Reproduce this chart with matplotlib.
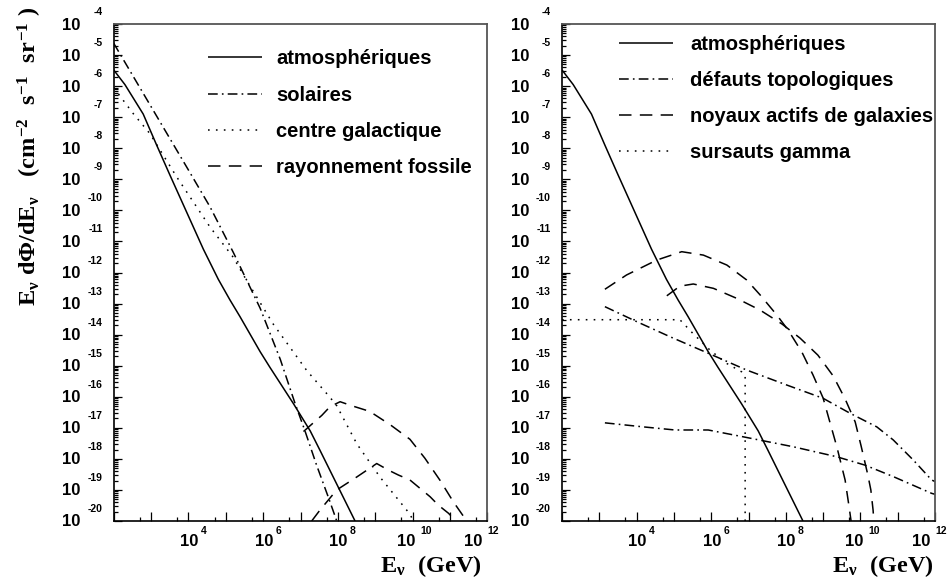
import numpy as np
import matplotlib.pyplot as plt
from matplotlib import transforms
from matplotlib.ticker import LogLocator, NullFormatter

plt.rcParams['mathtext.fontset'] = 'custom'
plt.rcParams['mathtext.rm'] = 'Liberation Serif:bold'
plt.rcParams['mathtext.it'] = 'Liberation Serif:bold'
plt.rcParams['mathtext.bf'] = 'Liberation Serif:bold'
plt.rcParams['lines.scale_dashes'] = False

# all values as log10(E / GeV) and log10(flux)
atm_logE = [2.0, 2.3, 2.79, 3.15, 3.5, 3.95, 4.4, 4.8, 5.11, 5.38, 5.92, 6.18, 6.81, 7.26, 7.52, 8.06, 8.46]
atm_logF = [-5.48, -5.95, -6.9, -7.9, -8.85, -10.05, -11.25, -12.22, -12.88, -13.42, -14.55, -15.05,
            -16.22, -17.1, -17.72, -19.03, -20.0]

# left panel
sol_logE = [2.0, 3.0, 4.0, 4.58, 5.2, 5.92, 6.46, 6.85, 7.12, 7.43, 7.75, 7.97]
sol_logF = [-4.62, -6.66, -8.7, -9.89, -11.35, -13.15, -14.8, -16.2, -17.1, -18.2, -19.25, -20.0]

gc_logE = [2.0, 2.52, 2.97, 3.69, 4.58, 5.2, 5.56, 6.27, 7.17, 7.79, 7.97, 8.51, 9.13, 9.93, 10.02]
gc_logF = [-6.05, -6.88, -7.53, -8.93, -10.54, -11.51, -12.26, -13.66, -15.16, -16.02, -16.29, -17.52, -18.59, -19.78, -20.0]

fos1_logE = [7.08, 7.57, 7.79, 8.06, 8.4, 8.85, 9.4, 9.93, 10.33, 10.74, 11.09, 11.45]
fos1_logF = [-17.12, -16.6, -16.32, -16.16, -16.3, -16.47, -16.9, -17.37, -17.98, -18.7, -19.38, -20.0]

fos2_logE = [7.3, 7.52, 7.97, 8.51, 9.04, 9.35, 9.62, 9.93, 10.2, 10.47, 10.69, 10.96, 11.14]
fos2_logF = [-20.0, -19.65, -19.0, -18.58, -18.15, -18.36, -18.52, -18.68, -18.95, -19.22, -19.49, -19.75, -19.97]

# right panel
td1_logE = [3.15, 4.0, 4.9, 5.92, 6.95, 8.02, 9.0, 9.72, 10.44, 10.88, 11.42, 11.91, 12.0]
td1_logF = [-13.1, -13.58, -14.07, -14.6, -15.14, -15.62, -16.05, -16.53, -16.97, -17.39, -18.04, -18.68, -18.73]

td2_logE = [3.15, 4.18, 5.03, 5.92, 6.86, 8.2, 9.36, 10.12, 10.88, 11.91, 12.0]
td2_logF = [-16.84, -16.97, -17.07, -17.07, -17.29, -17.61, -17.93, -18.2, -18.57, -19.11, -19.14]

agn1_logE = [3.15, 3.73, 4.54, 5.21, 5.79, 6.42, 6.95, 7.31, 7.76, 8.06, 8.43, 8.73, 9.0, 9.18, 9.37, 9.59, 9.69, 9.75]
agn1_logF = [-12.54, -12.08, -11.6, -11.33, -11.44, -11.76, -12.24, -12.72, -13.37, -13.85, -14.56, -15.3, -16.04,
             -16.81, -17.62, -18.68, -19.49, -20.0]

agn2_logE = [4.81, 5.16, 5.52, 6.06, 6.68, 7.31, 7.9, 8.38, 8.86, 9.27, 9.59, 9.86, 10.02, 10.2, 10.28, 10.34, 10.36]
agn2_logF = [-12.75, -12.44, -12.37, -12.51, -12.83, -13.21, -13.66, -14.11, -14.66, -15.33, -16.07, -16.81, -17.59,
             -18.52, -19.0, -19.65, -20.0]

grb_logE = [2.0, 5.16, 5.5, 5.97, 6.42, 6.82, 6.91, 6.91]
grb_logF = [-13.52, -13.52, -13.95, -14.5, -14.93, -15.2, -15.3, -20.5]

left_labels = ['atmosphériques', 'solaires', 'centre galactique', 'rayonnement fossile']
right_labels = ['atmosphériques', 'défauts topologiques', 'noyaux actifs de galaxies', 'sursauts gamma']

y_exponents = list(range(-4, -21, -1))
x_exponents = [4, 6, 8, 10, 12]

SOLID = '-'
DASHDOT = (0, (7, 3, 1.2, 3))
DOTTED = (0, (1.2, 4.5))
DASHED = (0, (9, 6))
LW = 1.1

fig = plt.figure(figsize=(9.51, 5.81), dpi=100)
W, H = 951, 581


def px_axes(left, right, top, bottom):
    return fig.add_axes([left / W, 1 - bottom / H, (right - left) / W, (bottom - top) / H])


ax1 = px_axes(113.7, 487.3, 24, 521)
ax2 = px_axes(562, 935, 24, 521)


def curve(ax, logE, logF, ls, label=None):
    ax.plot(10.0 ** np.array(logE), 10.0 ** np.array(logF), color='black',
            lw=LW, linestyle=ls, label=label, solid_capstyle='butt', dash_capstyle='butt')


def style_axes(ax):
    ax.set_xscale('log')
    ax.set_yscale('log')
    ax.set_xlim(1e2, 1e12)
    ax.set_ylim(1e-20, 1e-4)
    ax.xaxis.set_major_locator(LogLocator(base=10, subs=(1.0,), numticks=30))
    ax.xaxis.set_minor_locator(LogLocator(base=10, subs=(5.0,), numticks=30))
    ax.yaxis.set_major_locator(LogLocator(base=10, subs=(1.0,), numticks=30))
    ax.yaxis.set_minor_locator(LogLocator(base=10, subs=np.arange(2, 10), numticks=30))
    ax.xaxis.set_minor_formatter(NullFormatter())
    ax.yaxis.set_minor_formatter(NullFormatter())
    ax.tick_params(which='both', direction='in', top=False, right=False,
                   labelbottom=False, labelleft=False, width=0.9, color='black')
    ax.tick_params(axis='x', which='major', length=6.5)
    ax.tick_params(axis='x', which='minor', length=3.2)
    ax.tick_params(axis='y', which='major', length=5.8)
    ax.tick_params(axis='y', which='minor', length=2.9)
    for s in ['left', 'bottom']:
        ax.spines[s].set_linewidth(1.2)
        ax.spines[s].set_color('black')
    for s in ['top', 'right']:
        ax.spines[s].set_linewidth(1.3)
        ax.spines[s].set_color('#555555')

    # ROOT-like "10^n" tick labels
    off = lambda dx, dy: transforms.ScaledTranslation(dx / 100, dy / 100, fig.dpi_scale_trans)
    ty = transforms.blended_transform_factory(ax.transAxes, ax.transData)
    for e in y_exponents:
        ax.text(0, 10.0 ** e, '10', transform=ty + off(-33, -1), ha='right', va='center',
                fontsize=12, fontweight='bold', family='Liberation Sans')
        ax.text(0, 10.0 ** e, str(e), transform=ty + off(-11, 12), ha='right', va='center',
                fontsize=7.5, fontweight='bold', family='Liberation Sans')
    tx = transforms.blended_transform_factory(ax.transData, ax.transAxes)
    shifts = {4: (10, 12), 6: (10, 12), 8: (10, 12), 10: (3, 8), 12: (-5, 0)}
    for n in x_exponents:
        d10, dexp = shifts[n]
        ax.text(10.0 ** n, 0, '10', transform=tx + off(d10, -21), ha='right', va='center',
                fontsize=12, fontweight='bold', family='Liberation Sans')
        ax.text(10.0 ** n, 0, str(n), transform=tx + off(dexp, -10), ha='left', va='center',
                fontsize=7.5, fontweight='bold', family='Liberation Sans')


# left panel
curve(ax1, atm_logE, atm_logF, SOLID, left_labels[0])
curve(ax1, sol_logE, sol_logF, DASHDOT, left_labels[1])
curve(ax1, gc_logE, gc_logF, DOTTED, left_labels[2])
curve(ax1, fos1_logE, fos1_logF, DASHED, left_labels[3])
curve(ax1, fos2_logE, fos2_logF, DASHED)

# right panel
curve(ax2, atm_logE, atm_logF, SOLID, right_labels[0])
curve(ax2, td1_logE, td1_logF, DASHDOT, right_labels[1])
curve(ax2, td2_logE, td2_logF, DASHDOT)
curve(ax2, agn1_logE, agn1_logF, DASHED, right_labels[2])
curve(ax2, agn2_logE, agn2_logF, DASHED)
curve(ax2, grb_logE, grb_logF, DOTTED, right_labels[3])

for ax in (ax1, ax2):
    style_axes(ax)

leg_font = {'family': 'Liberation Sans', 'weight': 'bold', 'size': 14.5}
ax1.legend(loc='upper left', bbox_to_anchor=(0.2524, 0.949), frameon=False, prop=leg_font,
           borderpad=0, borderaxespad=0, handlelength=2.69, handletextpad=0.70, labelspacing=0.86)
ax2.legend(loc='upper left', bbox_to_anchor=(0.1528, 0.978), frameon=False, prop=leg_font,
           borderpad=0, borderaxespad=0, handlelength=2.69, handletextpad=0.85, labelspacing=0.84)

# axis titles
fig.text(30 / W, 1 - 6 / H,
         r'$E_{\nu}\ d\Phi/dE_{\nu}\ \ \ (cm^{-2}\ \ s^{-1}\ \ sr^{-1}\ )$',
         rotation=90, ha='center', va='top', fontsize=17.5)
for right in (482, 934):
    fig.text(right / W, 1 - 572 / H, r'$E_{\nu}\ \ (GeV)$', ha='right', va='baseline', fontsize=17.5)

fig.savefig('out.png', dpi=100)
